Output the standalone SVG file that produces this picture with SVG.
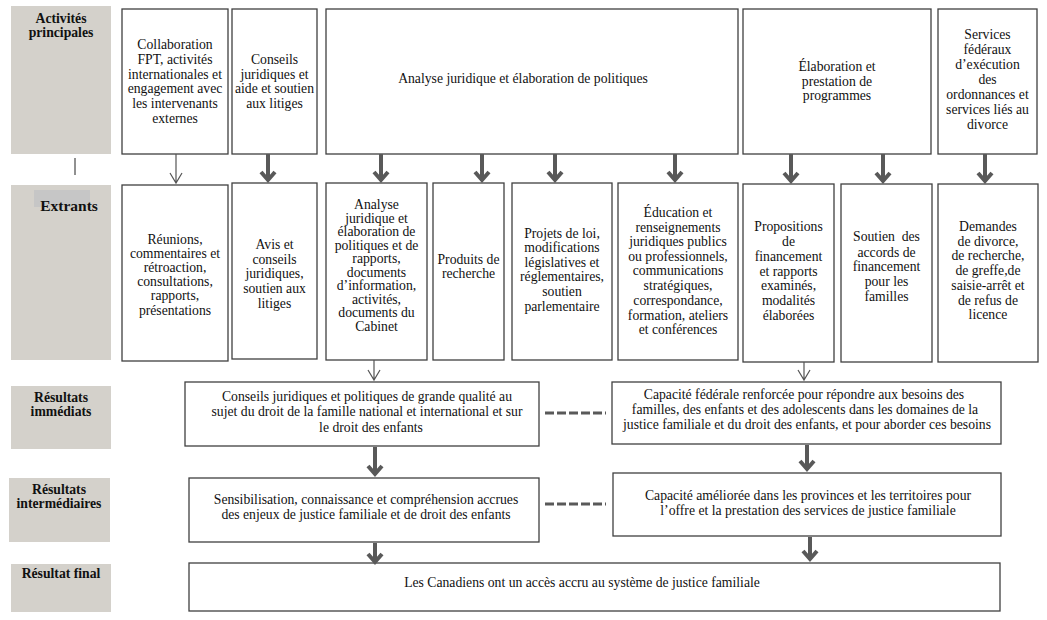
<svg xmlns="http://www.w3.org/2000/svg" width="1047" height="620" viewBox="0 0 1047 620">
<style>
.lab{fill:#d4d1cb;stroke:none}
.box{fill:#fff;stroke:#404040;stroke-width:1.3}
.t{font-family:"Liberation Serif","Times New Roman",serif;font-size:13.7px;fill:#111;text-anchor:middle}
.b{font-weight:bold}
.thick{stroke:#595959;stroke-width:4;fill:none}
.thin{stroke:#555;stroke-width:1.2;fill:none}
.dash{stroke:#595959;stroke-width:3;stroke-dasharray:9 3;fill:none}
</style>
<rect width="1047" height="620" fill="#fff"/>

<g id="labels">
  <g id="lab-activites">
    <rect class="lab" x="11" y="6" width="100" height="148"/>
    <text class="t b" x="61" y="23">Activités</text>
    <text class="t b" x="61" y="37">principales</text>
  </g>
  <line x1="75" y1="158" x2="75" y2="175" stroke="#222" stroke-width="1"/>
  <g id="lab-extrants">
    <rect class="lab" x="11" y="185" width="100" height="175"/>
    <rect x="34" y="190" width="56" height="17" fill="#c6c6c6"/>
    <text class="t b" x="69" y="211" style="font-size:15.5px">Extrants</text>
  </g>
  <g id="lab-immediats">
    <rect class="lab" x="11" y="386" width="100" height="63"/>
    <text class="t b" x="61" y="402">Résultats</text>
    <text class="t b" x="61" y="416">immédiats</text>
  </g>
  <g id="lab-intermediaires">
    <rect class="lab" x="9" y="478" width="101" height="64"/>
    <text class="t b" x="59" y="494">Résultats</text>
    <text class="t b" x="59" y="508">intermédiaires</text>
  </g>
  <g id="lab-final">
    <rect class="lab" x="11" y="564" width="100" height="48"/>
    <text class="t b" x="61" y="578">Résultat final</text>
  </g>
</g>

<g id="act1">
  <rect class="box" x="122" y="9" width="106" height="145"/>
  <text class="t" x="175" y="49">Collaboration</text>
  <text class="t" x="175" y="64">FPT, activités</text>
  <text class="t" x="175" y="79">internationales et</text>
  <text class="t" x="175" y="93">engagement avec</text>
  <text class="t" x="175" y="108">les intervenants</text>
  <text class="t" x="175" y="123">externes</text>
</g>
<g id="act2">
  <rect class="box" x="232" y="9" width="85" height="145"/>
  <text class="t" x="274.5" y="64">Conseils</text>
  <text class="t" x="274.5" y="79">juridiques et</text>
  <text class="t" x="274.5" y="93">aide et soutien</text>
  <text class="t" x="274.5" y="108">aux litiges</text>
</g>
<g id="act3">
  <rect class="box" x="326" y="9" width="412" height="145"/>
  <text class="t" x="523" y="83">Analyse juridique et élaboration de politiques</text>
</g>
<g id="act4">
  <rect class="box" x="743" y="9" width="188" height="145"/>
  <text class="t" x="837" y="71">Élaboration et</text>
  <text class="t" x="837" y="86">prestation de</text>
  <text class="t" x="837" y="100">programmes</text>
</g>
<g id="act5">
  <rect class="box" x="938" y="9" width="99" height="145"/>
  <text class="t" x="987.5" y="39">Services</text>
  <text class="t" x="987.5" y="54">fédéraux</text>
  <text class="t" x="987.5" y="69">d’exécution</text>
  <text class="t" x="987.5" y="84">des</text>
  <text class="t" x="987.5" y="99">ordonnances et</text>
  <text class="t" x="987.5" y="114">services liés au</text>
  <text class="t" x="987.5" y="129">divorce</text>
</g>

<g id="out1">
  <rect class="box" x="122" y="185" width="106" height="176"/>
  <text class="t" x="175" y="244">Réunions,</text>
  <text class="t" x="175" y="258">commentaires et</text>
  <text class="t" x="175" y="272">rétroaction,</text>
  <text class="t" x="175" y="286">consultations,</text>
  <text class="t" x="175" y="300">rapports,</text>
  <text class="t" x="175" y="315">présentations</text>
</g>
<g id="out2">
  <rect class="box" x="232" y="183" width="85" height="176"/>
  <text class="t" x="274.5" y="249">Avis et</text>
  <text class="t" x="274.5" y="264">conseils</text>
  <text class="t" x="274.5" y="278">juridiques,</text>
  <text class="t" x="274.5" y="293">soutien aux</text>
  <text class="t" x="274.5" y="308">litiges</text>
</g>
<g id="out3">
  <rect class="box" x="326" y="183" width="101" height="177"/>
  <text class="t" x="376.5" y="209">Analyse</text>
  <text class="t" x="376.5" y="222.5">juridique et</text>
  <text class="t" x="376.5" y="236">élaboration de</text>
  <text class="t" x="376.5" y="249.5">politiques et de</text>
  <text class="t" x="376.5" y="263">rapports,</text>
  <text class="t" x="376.5" y="276.5">documents</text>
  <text class="t" x="376.5" y="290">d’information,</text>
  <text class="t" x="376.5" y="303.5">activités,</text>
  <text class="t" x="376.5" y="317">documents du</text>
  <text class="t" x="376.5" y="330.5">Cabinet</text>
</g>
<g id="out4">
  <rect class="box" x="433" y="183" width="71" height="177"/>
  <text class="t" x="468.5" y="264">Produits de</text>
  <text class="t" x="468.5" y="278">recherche</text>
</g>
<g id="out5">
  <rect class="box" x="512" y="183" width="100" height="177"/>
  <text class="t" x="562" y="238">Projets de loi,</text>
  <text class="t" x="562" y="252">modifications</text>
  <text class="t" x="562" y="267">législatives et</text>
  <text class="t" x="562" y="281">réglementaires,</text>
  <text class="t" x="562" y="296">soutien</text>
  <text class="t" x="562" y="310.5">parlementaire</text>
</g>
<g id="out6">
  <rect class="box" x="618" y="183" width="120" height="177"/>
  <text class="t" x="678" y="217">Éducation et</text>
  <text class="t" x="678" y="232">renseignements</text>
  <text class="t" x="678" y="246">juridiques publics</text>
  <text class="t" x="678" y="261">ou professionnels,</text>
  <text class="t" x="678" y="275">communications</text>
  <text class="t" x="678" y="290">stratégiques,</text>
  <text class="t" x="678" y="305">correspondance,</text>
  <text class="t" x="678" y="320">formation, ateliers</text>
  <text class="t" x="678" y="334">et conférences</text>
</g>
<g id="out7">
  <rect class="box" x="743" y="184" width="91" height="178"/>
  <text class="t" x="788.5" y="231">Propositions</text>
  <text class="t" x="788.5" y="246">de</text>
  <text class="t" x="788.5" y="261">financement</text>
  <text class="t" x="788.5" y="276">et rapports</text>
  <text class="t" x="788.5" y="290">examinés,</text>
  <text class="t" x="788.5" y="305">modalités</text>
  <text class="t" x="788.5" y="320">élaborées</text>
</g>
<g id="out8">
  <rect class="box" x="841" y="184" width="91" height="178"/>
  <text class="t" x="886.5" y="241">Soutien&#160; des</text>
  <text class="t" x="886.5" y="257">accords de</text>
  <text class="t" x="886.5" y="271">financement</text>
  <text class="t" x="886.5" y="286">pour les</text>
  <text class="t" x="886.5" y="301">familles</text>
</g>
<g id="out9">
  <rect class="box" x="938" y="184" width="100" height="178"/>
  <text class="t" x="988" y="231">Demandes</text>
  <text class="t" x="988" y="246">de divorce,</text>
  <text class="t" x="988" y="260">de recherche,</text>
  <text class="t" x="988" y="275">de greffe,de</text>
  <text class="t" x="988" y="290">saisie-arrêt et</text>
  <text class="t" x="988" y="305">de refus de</text>
  <text class="t" x="988" y="319">licence</text>
</g>

<g id="res-imm-1">
  <rect class="box" x="185" y="382" width="354" height="64"/>
  <text class="t" x="367" y="401">Conseils juridiques et politiques de grande qualité au</text>
  <text class="t" x="367" y="416">sujet du droit de la famille national et international et sur</text>
  <text class="t" x="371" y="432">le droit des enfants</text>
</g>
<g id="res-imm-2">
  <rect class="box" x="612" y="382" width="389" height="62"/>
  <text class="t" x="804" y="399">Capacité fédérale renforcée pour répondre aux besoins des</text>
  <text class="t" x="805" y="414">familles, des enfants et des adolescents dans les domaines de la</text>
  <text class="t" x="807" y="429">justice familiale et du droit des enfants, et pour aborder ces besoins</text>
</g>
<g id="res-int-1">
  <rect class="box" x="189" y="478" width="350" height="64"/>
  <text class="t" x="366" y="504">Sensibilisation, connaissance et compréhension accrues</text>
  <text class="t" x="366" y="519">des enjeux de justice familiale et de droit des enfants</text>
</g>
<g id="res-int-2">
  <rect class="box" x="613" y="473" width="388" height="63"/>
  <text class="t" x="808" y="500">Capacité améliorée dans les provinces et les territoires pour</text>
  <text class="t" x="808" y="515">l’offre et la prestation des services de justice familiale</text>
</g>
<g id="res-final">
  <rect class="box" x="189" y="563" width="811" height="48"/>
  <text class="t" x="582" y="587">Les Canadiens ont un accès accru au système de justice familiale</text>
</g>

<g id="connectors">
  <path class="thin" d="M176 154V183M170 173L176 183L182 173"/>
  <path class="thick" d="M268 154V180M261 172L268 180L275 172"/>
  <path class="thick" d="M381 154V180M374 172L381 180L388 172"/>
  <path class="thick" d="M482 154V180M475 172L482 180L489 172"/>
  <path class="thick" d="M555 154V180M548 172L555 180L562 172"/>
  <path class="thick" d="M675 154V180M668 172L675 180L682 172"/>
  <path class="thick" d="M791 154V181M784 173L791 181L798 173"/>
  <path class="thick" d="M883 154V181M876 173L883 181L890 173"/>
  <path class="thick" d="M985 154V181M978 173L985 181L992 173"/>
  <path class="thin" d="M374 360V380M368 370L374 380L380 370"/>
  <path class="thin" d="M804 362V380M798 370L804 380L810 370"/>
  <path class="thick" d="M375 447V474M368 466L375 474L382 466"/>
  <path class="thick" d="M807 445V469M800 461L807 469L814 461"/>
  <path class="thick" d="M375 543V562M368 554L375 562L382 554"/>
  <path class="thick" d="M810 537V559M803 551L810 559L817 551"/>
  <path class="dash" d="M545 413H606"/>
  <path class="dash" d="M545 504H606"/>
</g>
</svg>
